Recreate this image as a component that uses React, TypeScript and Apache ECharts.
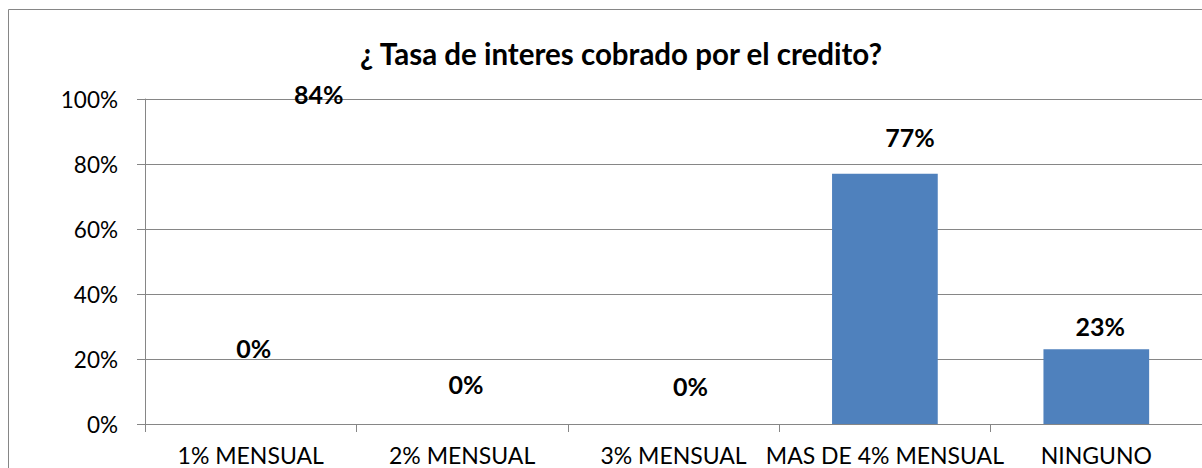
import React, { useEffect, useRef } from "react";
import * as echarts from "echarts";

const categories = ["1% MENSUAL", "2% MENSUAL", "3% MENSUAL", "MAS DE 4% MENSUAL", "NINGUNO"];
const values = [0, 0, 0, 77, 23];
const labelTexts = ["0%", "0%", "0%", "77%", "23%"];
const extraLabel = "84%";
const yTicks = [0, 20, 40, 60, 80, 100];
const titleText = "¿ Tasa de interes cobrado por el credito?";

// manual label displacements (Excel-style moved labels)
const labelOffsets: [number, number][] = [
  [3, -76],
  [4, -40],
  [17, -38],
  [25, -162],
  [4, -61],
];

const FONT = "Lato, 'Open Sans', sans-serif";
const GRAY = "#868686";

export default function App() {
  const ref = useRef<HTMLDivElement>(null);
  useEffect(() => {
    if (!ref.current) return;
    const chart = echarts.init(ref.current, undefined, { renderer: "svg" });
    const labelStyle = {
      fontFamily: FONT,
      fontWeight: "bold",
      fontSize: 25,
      color: "#000",
      opacity: 1,
    };
    chart.setOption({
      animation: false,
      backgroundColor: "#ffffff",
      title: {
        text: titleText,
        left: 616,
        textAlign: "center",
        top: 33,
        textStyle: { fontFamily: FONT, fontWeight: "bold", fontSize: 29.5, color: "#000" },
      },
      graphic: [
        {
          type: "rect",
          shape: { x: 8.5, y: 9.5, width: 1400, height: 600 },
          style: { fill: "none", stroke: GRAY, lineWidth: 1 },
          silent: true,
        },
      ],
      grid: { left: 145, top: 99, width: 1071, height: 325, containLabel: false },
      xAxis: {
        type: "category",
        data: categories,
        axisLine: { lineStyle: { color: GRAY, width: 1 } },
        axisTick: { show: true, length: 8, lineStyle: { color: GRAY } },
        axisLabel: { fontFamily: FONT, fontSize: 23, color: "#000", margin: 19, interval: 0 },
        splitLine: { show: false },
      },
      yAxis: {
        type: "value",
        min: 0,
        max: 100,
        interval: 20,
        axisLine: { show: true, lineStyle: { color: GRAY, width: 1 } },
        axisTick: { show: true, length: 8, lineStyle: { color: GRAY } },
        axisLabel: {
          fontFamily: FONT,
          fontSize: 22.5,
          color: "#000",
          margin: 27,
          formatter: (v: number) => (yTicks.includes(v) ? v + "%" : ""),
        },
        splitLine: { show: true, lineStyle: { color: GRAY, width: 1 } },
      },
      series: [
        {
          type: "bar",
          barWidth: "50%",
          itemStyle: { color: "#4F81BD", borderWidth: 0 },
          data: values.map((v, i) => ({
            value: v,
            label: {
              show: true,
              position: "inside",
              offset: labelOffsets[i],
              formatter: labelTexts[i],
              ...labelStyle,
            },
          })),
        },
        {
          type: "scatter",
          symbolSize: 0,
          silent: true,
          itemStyle: { opacity: 1 },
          data: [
            {
              value: [0, 100],
              label: {
                show: true,
                position: "inside",
                offset: [68, -5],
                formatter: extraLabel,
                ...labelStyle,
              },
            },
          ],
        },
      ],
    });
    return () => chart.dispose();
  }, []);
  return (
    <div
      ref={ref}
      style={{ position: "fixed", left: 0, top: 0, width: 1202, height: 468 }}
    />
  );
}
